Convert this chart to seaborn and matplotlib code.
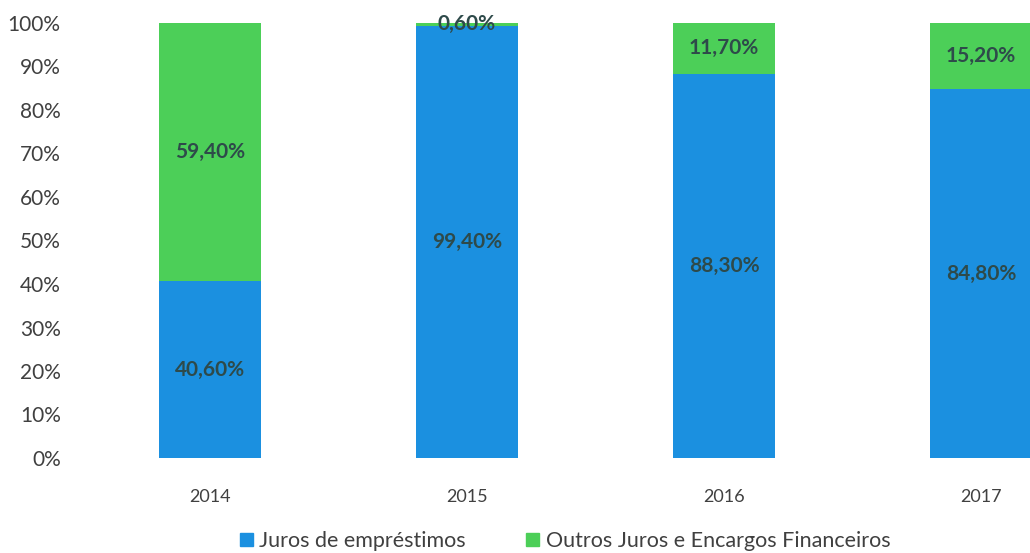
import numpy as np
import pandas as pd
import matplotlib
matplotlib.use("Agg")
import matplotlib.pyplot as plt
import seaborn as sns
from matplotlib.patches import Patch

# --- Datos ---
anos = ["2014", "2015", "2016", "2017"]
juros_emprestimos = [40.6, 99.4, 88.3, 84.8]
outros_juros = [59.4, 0.6, 11.7, 15.2]

azul = "#1b90e0"
verde = "#4ccf58"

df = pd.DataFrame({"ano": anos, "juros": juros_emprestimos, "outros": outros_juros})
df["total"] = df["juros"] + df["outros"]

sns.set_style("white")
plt.rcParams["font.family"] = ["Lato", "DejaVu Sans"]

fig = plt.figure(figsize=(10.3, 5.53), dpi=100)
# eixo estende-se além da borda direita (última barra cortada como no original)
ax = fig.add_axes([81.5 / 1030, 95 / 553, 1028 / 1030, 435 / 553])

# barra total (verde) por trás, juros (azul) por cima
sns.barplot(data=df, x="ano", y="total", color=verde, width=0.393, saturation=1,
            linewidth=0, ax=ax)
sns.barplot(data=df, x="ano", y="juros", color=azul, width=0.393, saturation=1,
            linewidth=0, ax=ax)

cor_txt = "#2e4a4a"
labels_outros = [f"{v:.2f}%".replace(".", ",") for v in outros_juros]
labels_juros = [f"{v:.2f}%".replace(".", ",") for v in juros_emprestimos]

# rótulos centrados em cada segmento
for i, (j, o) in enumerate(zip(juros_emprestimos, outros_juros)):
    ax.text(i, j / 2, labels_juros[i], ha="center", va="center",
            fontsize=15, fontweight="bold", color=cor_txt)
    ax.text(i, j + o / 2, labels_outros[i], ha="center", va="center",
            fontsize=15, fontweight="bold", color=cor_txt)

ax.set_xlim(-0.5, 3.5)
ax.set_ylim(0, 100)
ax.set_yticks(np.arange(0, 101, 10))
ax.set_yticklabels([f"{t}%" for t in range(0, 101, 10)])
ax.set_xlabel("")
ax.set_ylabel("")
ax.tick_params(axis="both", length=0, colors="#404040")
ax.tick_params(axis="y", labelsize=15, pad=15)
ax.tick_params(axis="x", labelsize=13, pad=22)
sns.despine(ax=ax, left=True, bottom=True)

handles = [Patch(color=azul, label="Juros de empréstimos"),
           Patch(color=verde, label="Outros Juros e Encargos Financeiros")]
fig.legend(handles=handles, loc="center", bbox_to_anchor=(565 / 1030, 1 - 541 / 553),
           ncol=2, frameon=False, fontsize=15.5, handlelength=0.6, handleheight=0.6,
           handletextpad=0.3, columnspacing=2.8, labelcolor="#404040")

fig.savefig("out.png", dpi=100)
